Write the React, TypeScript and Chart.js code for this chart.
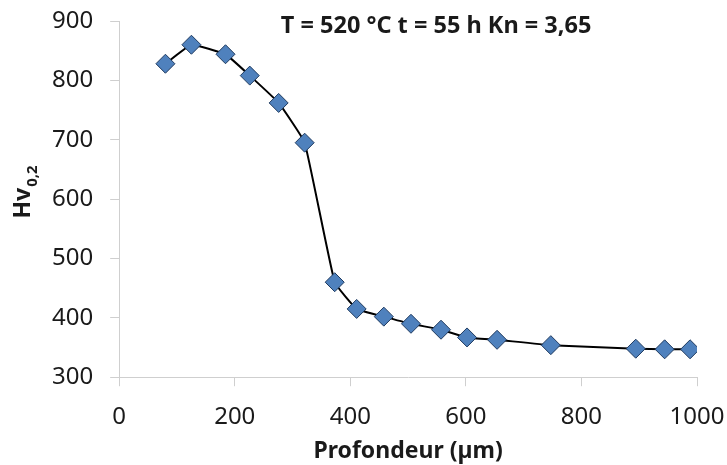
import React, { useEffect, useRef } from "react";
import { Chart, registerables } from "chart.js";

Chart.register(...registerables);

const depthUm: number[] = [80, 125, 184, 226, 276, 321, 373, 411, 458, 505, 557, 602, 654, 747, 894, 944, 988];
const hardness: number[] = [828, 860, 844, 808, 762, 695, 460, 415, 402, 390, 380, 367, 363, 354, 348, 347, 347];
const xTicks: number[] = [0, 200, 400, 600, 800, 1000];
const yTicks: number[] = [300, 400, 500, 600, 700, 800, 900];

const chartTitle = "T = 520 °C t = 55 h Kn = 3,65";
const xTitle = "Profondeur (µm)";
const yTitleMain = "Hv";
const yTitleSub = "0,2";

const FONT = "'Noto Sans', 'Open Sans', sans-serif";
const TEXT = "#1a1a1a";
const AXIS = "#cfcfcf";

const textPlugin = {
  id: "customText",
  afterDraw(chart: any) {
    const { ctx, chartArea } = chart;
    const sx = (chartArea.right - chartArea.left) / 578;
    ctx.save();
    ctx.fillStyle = TEXT;
    // title inside plot area
    ctx.font = `bold 23.5px ${FONT}`;
    ctx.textAlign = "center";
    ctx.textBaseline = "alphabetic";
    ctx.fillText(chartTitle, chartArea.left + 317 * sx, 33);
    // x axis title
    ctx.font = `bold 23px ${FONT}`;
    ctx.fillText(xTitle, (chartArea.left + chartArea.right) / 2, 458);
    // y title rotated with subscript
    ctx.translate(0, 192);
    ctx.rotate(-Math.PI / 2);
    ctx.font = `bold 23px ${FONT}`;
    const wMain = ctx.measureText(yTitleMain).width;
    ctx.font = `bold 15px ${FONT}`;
    const wSub = ctx.measureText(yTitleSub).width;
    const total = wMain + wSub + 1;
    ctx.textAlign = "left";
    ctx.font = `bold 23px ${FONT}`;
    ctx.fillText(yTitleMain, -total / 2, 30);
    ctx.font = `bold 15px ${FONT}`;
    ctx.fillText(yTitleSub, -total / 2 + wMain + 1, 37);
    ctx.restore();
  },
};

const noEdgePadding = (scale: any) => {
  scale.paddingTop = 0;
  scale.paddingBottom = 0;
  scale.paddingLeft = 0;
  scale.paddingRight = 0;
};

export default function App() {
  const ref = useRef<HTMLCanvasElement | null>(null);
  useEffect(() => {
    if (!ref.current) return;
    const chart = new Chart(ref.current, {
      type: "line",
      data: {
        datasets: [
          {
            data: depthUm.map((x, i) => ({ x, y: hardness[i] })),
            borderColor: "#000000",
            borderWidth: 2,
            tension: 0.1,
            pointStyle: "rectRot",
            pointRadius: 9.5,
            pointHoverRadius: 9.5,
            pointBackgroundColor: "#4f81bd",
            pointBorderColor: "#1f3a5f",
            pointBorderWidth: 1,
          },
        ],
      },
      options: {
        animation: false,
        responsive: true,
        maintainAspectRatio: false,
        layout: { padding: { left: 35, right: 30, top: 21, bottom: 16 } },
        plugins: { legend: { display: false }, tooltip: { enabled: false }, title: { display: false } },
        scales: {
          x: {
            type: "linear",
            min: 0,
            max: 1000,
            afterBuildTicks: (s: any) => { s.ticks = xTicks.map((v) => ({ value: v })); },
            afterFit: noEdgePadding,
            grid: { drawOnChartArea: false, drawTicks: true, tickLength: 9, color: AXIS },
            border: { color: AXIS, width: 1 },
            ticks: { color: TEXT, font: { family: FONT, size: 24 }, padding: 17, maxRotation: 0, callback: (v: any) => String(v) },
          },
          y: {
            type: "linear",
            min: 300,
            max: 900,
            afterBuildTicks: (s: any) => { s.ticks = yTicks.map((v) => ({ value: v })); },
            afterFit: noEdgePadding,
            grid: { drawOnChartArea: false, drawTicks: true, tickLength: 9, color: AXIS },
            border: { color: AXIS, width: 1 },
            ticks: { color: TEXT, font: { family: FONT, size: 24 }, padding: 17, callback: (v: any) => String(v) },
          },
        },
      },
      plugins: [textPlugin],
    });
    return () => chart.destroy();
  }, []);
  return (
    <div style={{ position: "absolute", left: 0, top: 0, width: 727, height: 465, background: "#fff" }}>
      <canvas ref={ref} />
    </div>
  );
}
